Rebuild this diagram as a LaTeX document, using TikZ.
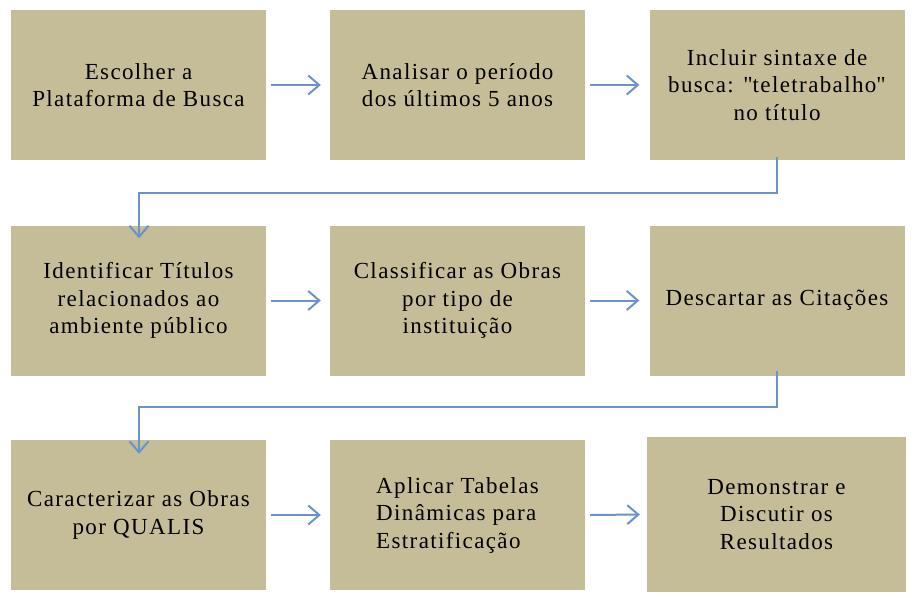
\documentclass[tikz,border=0pt]{standalone}
\usepackage{fontspec}
\setmainfont{Liberation Serif}[LetterSpace=6]
\usetikzlibrary{arrows.meta}
\definecolor{boxtan}{HTML}{C4BD97}
\definecolor{arrowblue}{HTML}{6A93C9}
\tikzset{
  stepbox/.style={rectangle, fill=boxtan, draw=none, inner sep=0pt,
    minimum width=255pt, minimum height=150pt, align=center,
    font=\fontsize{23}{27.5}\selectfont},
  flow/.style={draw=arrowblue, line width=2pt,
    -{Straight Barb[length=11pt,width=19pt,line width=2pt]}},
}
\begin{document}
\begin{tikzpicture}[x=1pt,y=-1pt]
\useasboundingbox (0,0) rectangle (919,603);
\fill[white] (0,0) rectangle (919,603);
\node[stepbox] (b1) at (138.5,85) {Escolher a\\Plataforma de Busca};
\node[stepbox] (b2) at (457.5,85) {Analisar o período\\dos últimos 5 anos};
\node[stepbox] (b3) at (777,85) {Incluir sintaxe de\\busca: \textquotedbl teletrabalho\textquotedbl\\no título};
\node[stepbox] (b4) at (138.5,300.5) {Identificar Títulos\\relacionados ao\\ambiente público};
\node[stepbox] (b5) at (457.5,300.5) {Classificar as Obras\\por tipo de\\instituição};
\node[stepbox] (b6) at (777,300.5) {Descartar as Citações};
\node[stepbox] (b7) at (138.5,515) {Caracterizar as Obras\\por QUALIS};
\node[stepbox, align=left] (b8) at (457.5,515) {Aplicar Tabelas\\Dinâmicas para\\Estratificação};
\node[stepbox, minimum width=259pt, minimum height=155pt] (b9) at (776.5,514.5) {Demonstrar e\\Discutir os\\Resultados};

\draw[flow] ([xshift=5pt]b1.east) -- ([xshift=-9pt]b2.west);
\draw[flow] ([xshift=5pt]b2.east) -- ([xshift=-10pt]b3.west);
\draw[flow] ([xshift=5pt]b4.east) -- ([xshift=-9pt]b5.west);
\draw[flow] ([xshift=5pt]b5.east) -- ([xshift=-10pt]b6.west);
\draw[flow] ([xshift=5pt]b7.east) -- ([xshift=-9pt]b8.west);
\draw[flow] ([xshift=5pt]b8.east) -- ([xshift=-7pt]b9.west);

\coordinate (t1) at (777,193);
\coordinate (t2) at (139,193);
\draw[flow] ([yshift=3pt]b3.south) -- (t1) -- (t2) -- ([yshift=-13pt]b4.north -| t2);
\coordinate (t3) at (777,407);
\coordinate (t4) at (139,407);
\draw[flow] ([yshift=5pt]b6.south) -- (t3) -- (t4) -- ([yshift=-14pt]b7.north -| t4);
\end{tikzpicture}
\end{document}
